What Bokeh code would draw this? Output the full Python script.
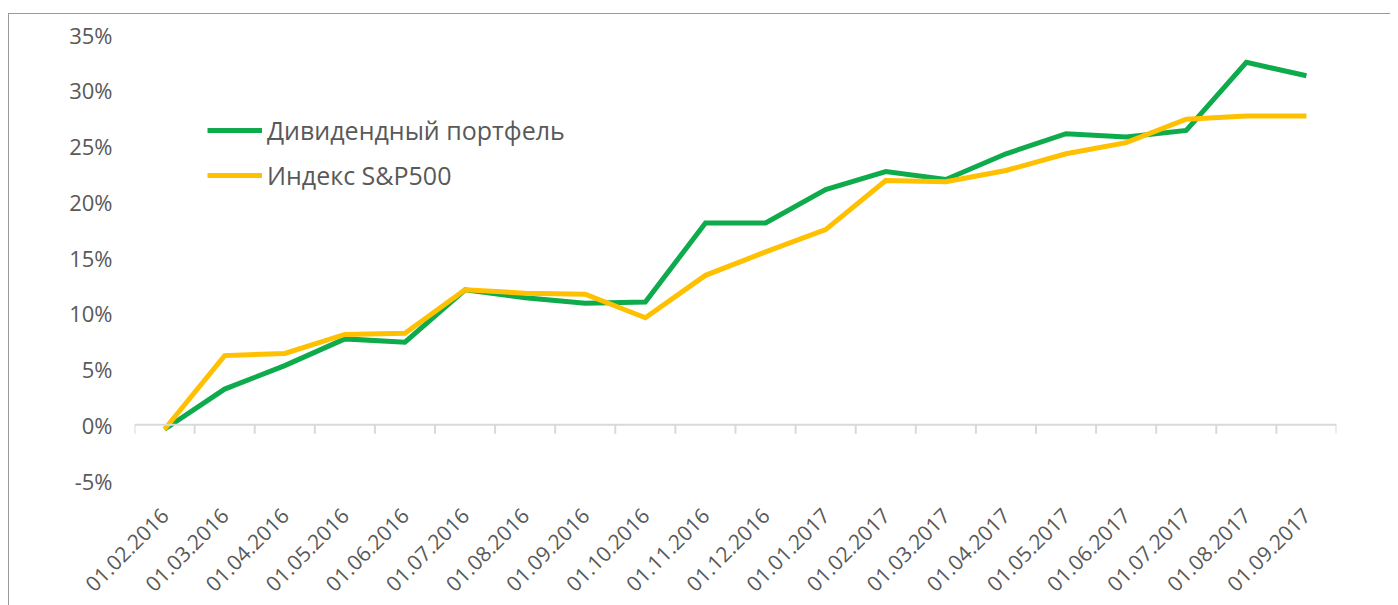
from bokeh.plotting import figure
from bokeh.models import Range1d, FixedTicker, PrintfTickFormatter, Legend, LegendItem, Span
from bokeh.embed import file_html
from bokeh.resources import INLINE
import math

dates = ["01.02.2016", "01.03.2016", "01.04.2016", "01.05.2016", "01.06.2016",
         "01.07.2016", "01.08.2016", "01.09.2016", "01.10.2016", "01.11.2016",
         "01.12.2016", "01.01.2017", "01.02.2017", "01.03.2017", "01.04.2017",
         "01.05.2017", "01.06.2017", "01.07.2017", "01.08.2017", "01.09.2017"]
dividend = [-0.4, 3.2, 5.3, 7.7, 7.4, 12.1, 11.4, 10.9, 11.0, 18.1,
            18.1, 21.1, 22.7, 22.0, 24.3, 26.1, 25.8, 26.4, 32.5, 31.3]
sp500 = [-0.4, 6.2, 6.4, 8.1, 8.2, 12.1, 11.8, 11.7, 9.6, 13.4,
         15.5, 17.5, 21.9, 21.8, 22.8, 24.3, 25.3, 27.4, 27.7, 27.7]
y_ticks = [-5, 0, 5, 10, 15, 20, 25, 30, 35]
series_names = ["Дивидендный портфель", "Индекс S&P500"]

GREEN = "#0DAB4C"
YELLOW = "#FFC000"
TEXT = "#595959"
AXIS = "#D9D9D9"
BORDER = "#9a9a9a"
FONT = "Open Sans"

n = len(dates)
xs = list(range(n))

W, H = 1390, 605
FRAME_H = 446
p = figure(width=W, height=H, output_backend="svg", toolbar_location=None,
           x_range=Range1d(-0.5, n - 0.5), y_range=Range1d(y_ticks[0], y_ticks[-1]),
           min_border_left=134, min_border_right=54, min_border_top=34,
           min_border_bottom=H - 34 - FRAME_H)
p.outline_line_color = None
p.xgrid.visible = False
p.ygrid.visible = False
p.background_fill_color = None
p.border_fill_color = None
# outer chart border (top and left edges visible in the reference), drawn behind the canvas
p.styles = {
    "background": (f"linear-gradient({BORDER},{BORDER}) 8px 13px / 100% 1px no-repeat, "
                   f"linear-gradient({BORDER},{BORDER}) 8px 13px / 1px 100% no-repeat, white"),
}

# bottom label axis
xa = p.xaxis[0]
xa.ticker = FixedTicker(ticks=xs)
xa.major_label_overrides = {i: d for i, d in enumerate(dates)}
xa.major_label_orientation = math.pi / 4
xa.axis_line_color = None
xa.major_tick_line_color = None
xa.major_tick_out = 0
xa.major_tick_in = 0
xa.minor_tick_line_color = None
xa.major_label_text_font = FONT
xa.major_label_text_font_size = "21px"
xa.major_label_text_color = TEXT
xa.major_label_standoff = 31

ya = p.yaxis[0]
ya.ticker = FixedTicker(ticks=y_ticks)
ya.formatter = PrintfTickFormatter(format="%d%%")
ya.axis_line_color = None
ya.major_tick_line_color = None
ya.major_tick_out = 0
ya.major_tick_in = 0
ya.minor_tick_line_color = None
ya.major_label_text_font = FONT
ya.major_label_text_font_size = "22px"
ya.major_label_text_color = TEXT
ya.major_label_standoff = 22

# zero axis line with tick marks between categories
p.add_layout(Span(location=0, dimension="width", line_color=AXIS, line_width=2))
boundaries = [i - 0.5 for i in range(n + 1)]
tick_len = (y_ticks[-1] - y_ticks[0]) * 9 / FRAME_H
p.segment(x0=boundaries, y0=[0] * len(boundaries), x1=boundaries,
          y1=[-tick_len] * len(boundaries), line_color=AXIS, line_width=2)

r1 = p.line(xs, dividend, line_color=GREEN, line_width=5, line_join="miter")
r2 = p.line(xs, sp500, line_color=YELLOW, line_width=5, line_join="miter")

legend = Legend(items=[LegendItem(label=series_names[0], renderers=[r1]),
                       LegendItem(label=series_names[1], renderers=[r2])],
                location=(73, 285), orientation="vertical",
                background_fill_alpha=0, border_line_alpha=0,
                padding=0, margin=0, spacing=5,
                glyph_width=55, glyph_height=40, label_height=40,
                label_standoff=5,
                label_text_font=FONT, label_text_font_size="25px",
                label_text_color=TEXT)
p.add_layout(legend, "center")

open("out.html", "w").write(file_html(p, INLINE))
